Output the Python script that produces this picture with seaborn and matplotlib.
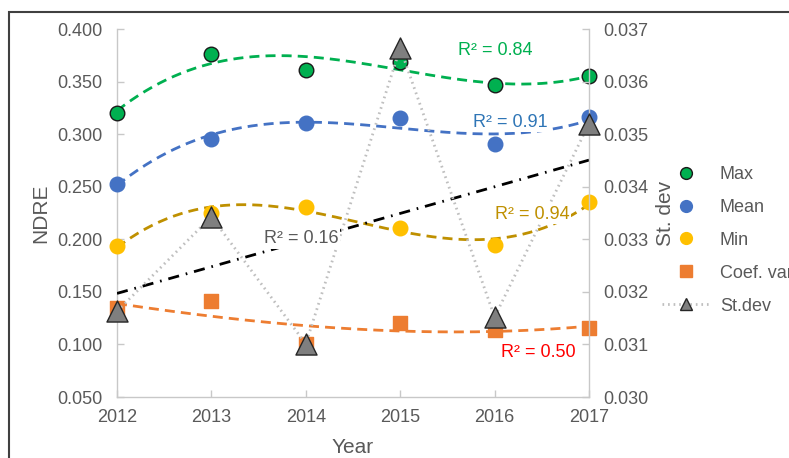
import numpy as np
import pandas as pd
import seaborn as sns
import matplotlib.pyplot as plt
from matplotlib.lines import Line2D
from matplotlib.patches import Rectangle

# Values
years = [2012, 2013, 2014, 2015, 2016, 2017]
ndre_max = [0.320, 0.376, 0.361, 0.369, 0.347, 0.355]
ndre_mean = [0.253, 0.295, 0.311, 0.315, 0.291, 0.316]
ndre_min = [0.194, 0.225, 0.231, 0.211, 0.195, 0.235]
coef_var = [0.135, 0.141, 0.100, 0.120, 0.114, 0.116]
st_dev = [0.03163, 0.03343, 0.03101, 0.03664, 0.03152, 0.0352]

r2_labels = ["R² = 0.84", "R² = 0.91", "R² = 0.94", "R² = 0.50", "R² = 0.16"]

GREY = "#595959"
AXIS = "#C8C8C8"
C_MAX, C_MEAN, C_MIN, C_CV = "#00B050", "#4472C4", "#FFC000", "#ED7D31"

sns.set_theme(style="white")
plt.rcParams["font.family"] = ["Liberation Sans", "DejaVu Sans"]

df = pd.DataFrame({"Year": years, "Max": ndre_max, "Mean": ndre_mean,
                   "Min": ndre_min, "Coef. var": coef_var, "St.dev": st_dev})


def trend(col, deg):
    # Excel-style polynomial trendline fitted to the series
    x = np.array(years) - years[0]
    coef = np.polyfit(x, df[col], deg)
    xs = np.linspace(0, x[-1], 200)
    return pd.DataFrame({"Year": xs + years[0], col: np.polyval(coef, xs)})


fig = plt.figure(figsize=(7.89, 4.58), dpi=100)
ax = fig.add_axes([117 / 789, 1 - 397 / 458, 472 / 789, 368 / 458])
ax2 = ax.twinx()

# Trendlines on the NDRE axis
dash = (3.6, 2.2)
for col, c in [("Max", C_MAX), ("Mean", C_MEAN), ("Min", "#BF9000"), ("Coef. var", C_CV)]:
    t = trend(col, 3)
    sns.lineplot(data=t, x="Year", y=col, ax=ax, color=c, lw=2, zorder=2)
    ax.lines[-1].set_dashes(dash)

# Markers on the NDRE axis
for col, c, m, ec, s in [("Max", C_MAX, "o", "#1a1a1a", 110), ("Mean", C_MEAN, "o", C_MEAN, 110),
                         ("Min", C_MIN, "o", C_MIN, 110), ("Coef. var", C_CV, "s", C_CV, 95)]:
    sns.scatterplot(data=df, x="Year", y=col, ax=ax, color=c, marker=m, s=s,
                    edgecolor=ec, linewidth=1, zorder=3, clip_on=False)

# St.dev on the secondary axis: linear trend, dotted line with triangles
t = trend("St.dev", 1)
sns.lineplot(data=t, x="Year", y="St.dev", ax=ax2, color="black", lw=2, zorder=2)
ax2.lines[-1].set_linestyle((0, (4, 2.5, 0.6, 2.5)))
sns.lineplot(data=df, x="Year", y="St.dev", ax=ax2, color="#BFBFBF", lw=2, zorder=3)
ax2.lines[-1].set_linestyle((0, (0.6, 1.4)))
sns.scatterplot(data=df, x="Year", y="St.dev", ax=ax2, color="#7F7F7F", marker="^", s=230,
                edgecolor="#262626", linewidth=1, zorder=4, clip_on=False)

# R² labels
box = dict(facecolor="white", edgecolor="none", pad=1)
lab_kw = dict(fontsize=13, ha="center", va="center", zorder=3.5)
ax2.text(2016.01, 0.03660, r2_labels[0], color=C_MAX, **lab_kw)
ax2.text(2016.17, 0.03523, r2_labels[1], color="#2E75B6", bbox=box, **lab_kw)
ax2.text(2016.40, 0.03348, r2_labels[2], color="#BF9000", bbox=box, **lab_kw)
ax2.text(2016.46, 0.03084, r2_labels[3], color="#FF0000", **lab_kw)
ax2.text(2013.95, 0.03301, r2_labels[4], color=GREY, bbox=box, **lab_kw)

# Axes styling
ax.set_xlim(2012, 2017)
ax.set_ylim(0.05, 0.40)
ax2.set_ylim(0.030, 0.037)
ax.set_xticks(years)
ax.set_yticks(np.arange(0.05, 0.4001, 0.05))
ax2.set_yticks(np.arange(0.030, 0.03701, 0.001))
ax.set_yticklabels([f"{v:.3f}" for v in ax.get_yticks()])
ax2.set_yticklabels([f"{v:.3f}" for v in ax2.get_yticks()])
ax.set_xticklabels([str(y) for y in years])

for a in (ax, ax2):
    for side in ("top", "left", "right", "bottom"):
        a.spines[side].set_visible(False)
ax.spines["left"].set_visible(True)
ax.spines["bottom"].set_visible(True)
ax2.spines["right"].set_visible(True)
for sp in (ax.spines["left"], ax.spines["bottom"], ax2.spines["right"]):
    sp.set_color(AXIS)
    sp.set_linewidth(1)

ax.tick_params(axis="y", direction="in", length=5, width=1, color=AXIS, labelsize=13, labelcolor=GREY, pad=10.5, left=True)
ax.tick_params(axis="x", direction="in", length=5, width=1, color=AXIS, labelsize=13, labelcolor=GREY, pad=9, bottom=True)
ax2.tick_params(axis="y", direction="in", length=5, width=1, color=AXIS, labelsize=13, labelcolor=GREY, pad=10, right=True)

ax.set_xlabel("Year", fontsize=15, color=GREY)
ax.set_ylabel("NDRE", fontsize=15, color=GREY)
ax2.set_ylabel("St. dev", fontsize=15, color=GREY)
ax.xaxis.set_label_coords(0.5, -0.138)
ax.yaxis.set_label_coords(-0.161, 0.5)
ax2.yaxis.set_label_coords(1.163, 0.5)
for lbl in (ax.xaxis.label, ax.yaxis.label, ax2.yaxis.label):
    lbl.set_va("center")
    lbl.set_ha("center")

# Legend
handles = [
    Line2D([], [], ls="none", marker="o", ms=8.5, mfc=C_MAX, mec="#1a1a1a", mew=1),
    Line2D([], [], ls="none", marker="o", ms=8.5, mfc=C_MEAN, mec=C_MEAN),
    Line2D([], [], ls="none", marker="o", ms=8.5, mfc=C_MIN, mec=C_MIN),
    Line2D([], [], ls="none", marker="s", ms=8, mfc=C_CV, mec=C_CV),
    Line2D([], [], ls=(0, (0.6, 1.4)), lw=2, color="#BFBFBF", marker="^", ms=8, mfc="#7F7F7F", mec="#262626"),
]
leg = fig.legend(handles, ["Max", "Mean", "Min", "Coef. var", "St.dev"], loc="upper left",
                 bbox_to_anchor=(662 / 789, 1 - 166 / 458), frameon=False, fontsize=13,
                 handlelength=2.7, handletextpad=0.5, labelspacing=0.88, borderpad=0, borderaxespad=0)
for txt in leg.get_texts():
    txt.set_color(GREY)

# Chart area border (cropped on the right and bottom)
fig.patches.append(Rectangle((9 / 789, -0.2), 1.2, 1.2 - 12 / 458, transform=fig.transFigure,
                             fill=False, edgecolor="#404040", lw=1.5, zorder=0))

fig.savefig("out.png", dpi=100)
